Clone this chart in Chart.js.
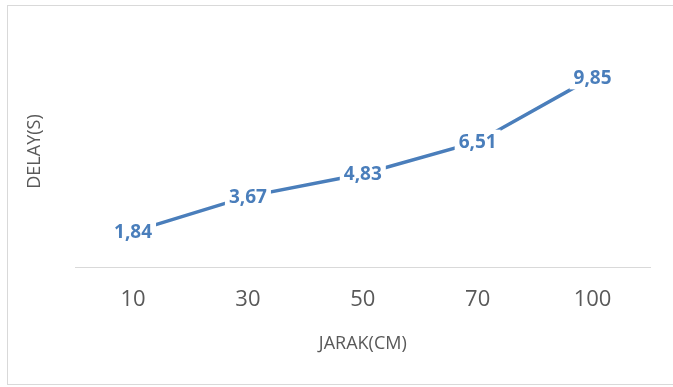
<!DOCTYPE html>
<html>
<head>
<meta charset="utf-8">
<script src="https://cdn.jsdelivr.net/npm/chart.js@4"></script>
<style>
  body { margin: 0; background: #fff; }
  #wrap { width: 673px; height: 387px; position: relative; }
</style>
</head>
<body>
<div id="wrap"><canvas id="lineChart"></canvas></div>
<script>
const jarak = ['10', '30', '50', '70', '100'];
const delay = [1.84, 3.67, 4.83, 6.51, 9.85];
const delayLabels = ['1,84', '3,67', '4,83', '6,51', '9,85'];

const blue = '#4a7ebb';
const grey = '#595959';

// frame round the chart, like the Excel chart border
const framePlugin = {
  id: 'frame',
  beforeDraw(chart) {
    const ctx = chart.ctx;
    ctx.save();
    ctx.fillStyle = '#fff';
    ctx.fillRect(0, 0, chart.width, chart.height);
    ctx.strokeStyle = '#d9d9d9';
    ctx.lineWidth = 1;
    ctx.strokeRect(7.5, 5.5, 700, 379);
    ctx.restore();
  }
};

// value labels with white box on top of the line
const valueLabels = {
  id: 'valueLabels',
  afterDatasetsDraw(chart) {
    const ctx = chart.ctx;
    const meta = chart.getDatasetMeta(0);
    ctx.save();
    ctx.font = 'bold 19px "Open Sans", sans-serif';
    ctx.textAlign = 'center';
    ctx.textBaseline = 'middle';
    meta.data.forEach(function(pt, i) {
      const txt = delayLabels[i];
      const w = ctx.measureText(txt).width + 8;
      ctx.fillStyle = '#fff';
      ctx.fillRect(pt.x - w / 2, pt.y - 12, w, 24);
      ctx.fillStyle = blue;
      ctx.fillText(txt, pt.x, pt.y + 1);
    });
    ctx.restore();
  }
};

const config = {
  type: 'line',
  data: {
    labels: jarak,
    datasets: [{
      data: delay,
      borderColor: blue,
      borderWidth: 3.5,
      pointRadius: 0,
      tension: 0,
      fill: false
    }]
  },
  options: {
    responsive: false,
    animation: false,
    layout: { padding: { left: 20, right: 23, top: 36, bottom: 28 } },
    plugins: { legend: { display: false }, tooltip: { enabled: false } },
    scales: {
      x: {
        offset: true,
        grid: { display: false, drawTicks: false, offset: true },
        border: { color: '#d9d9d9', width: 1 },
        ticks: { color: grey, font: { size: 22, family: '"Open Sans", sans-serif' }, padding: 20 },
        title: { display: true, text: 'JARAK(CM)', color: grey, font: { size: 18, family: '"Open Sans", sans-serif' }, padding: { top: 0 } }
      },
      y: {
        min: 0,
        max: 12,
        grid: { display: false },
        border: { display: false },
        ticks: { display: false },
        title: { display: true, text: 'DELAY(S)', color: grey, font: { size: 18, family: '"Open Sans", sans-serif' }, padding: { bottom: 22 } }
      }
    }
  },
  plugins: [framePlugin, valueLabels]
};

const canvas = document.getElementById('lineChart');
canvas.width = 673;
canvas.height = 387;
const myChart = new Chart(canvas, config);
</script>
</body>
</html>
